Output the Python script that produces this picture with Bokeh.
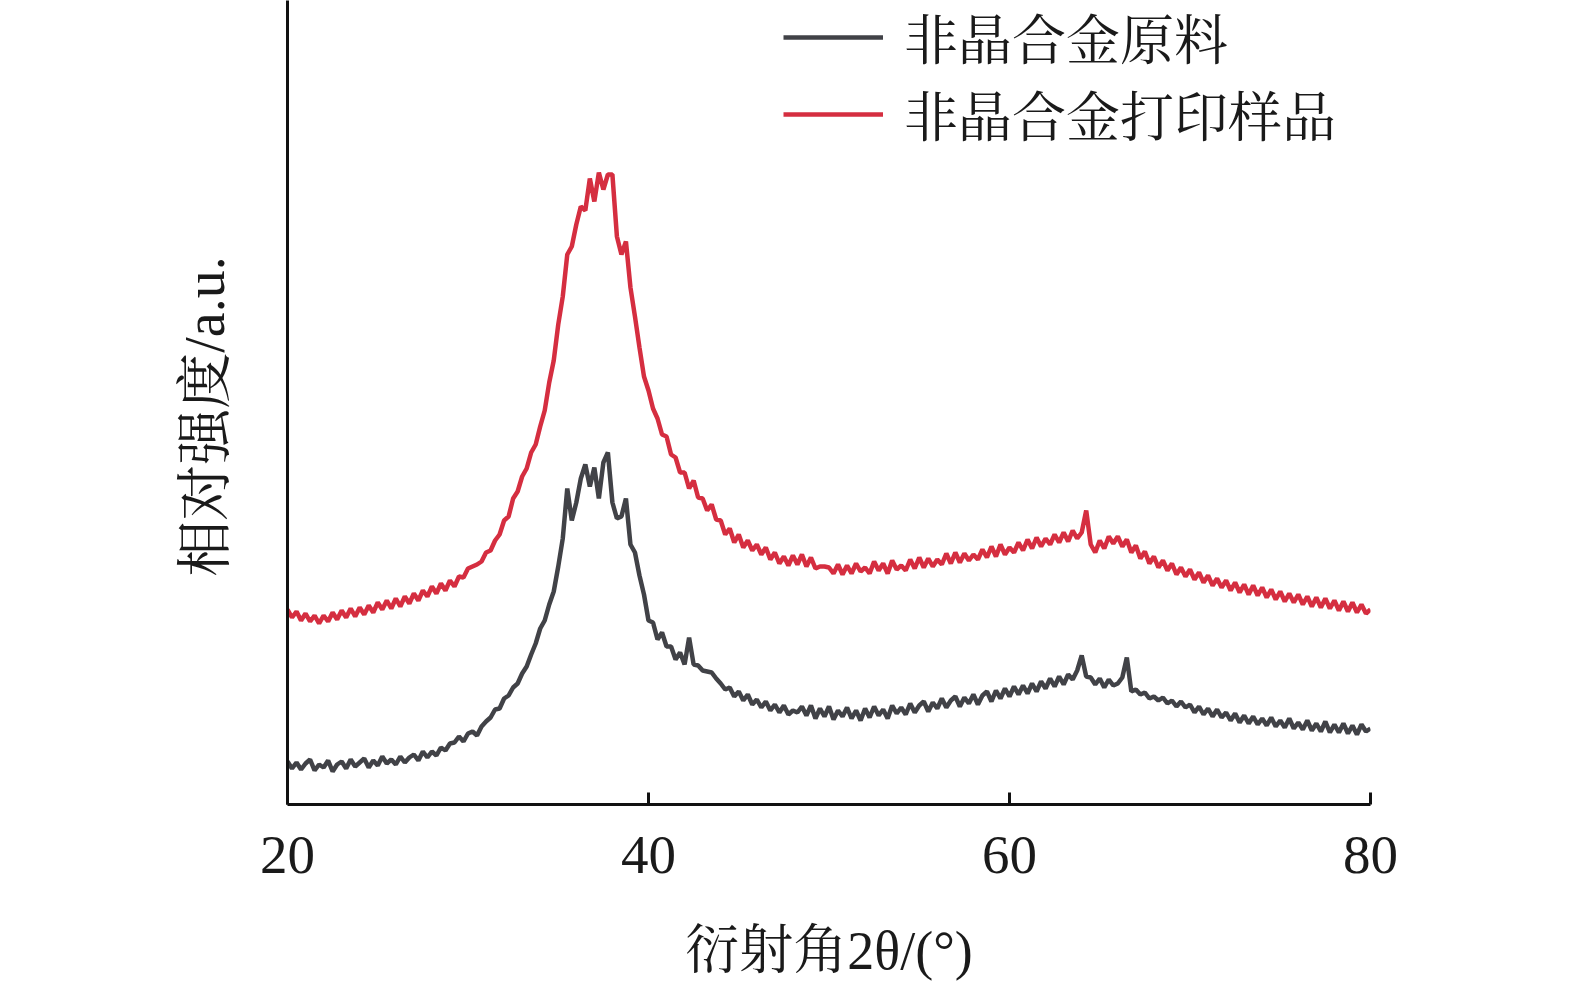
from bokeh.plotting import figure
from bokeh.models import Range1d, FixedTicker, Legend, LegendItem
from bokeh.embed import file_html
from bokeh.resources import INLINE

# diffraction angle 2theta (degrees), 0.25 deg step
two_theta = [20 + 0.25 * i for i in range(241)]

# 非晶合金原料 (relative intensity, a.u.)
raw_alloy = [
    43, 36, 42, 35, 41, 45, 34, 40,
    37, 44, 33, 40, 43, 36, 45, 38,
    42, 46, 37, 44, 39, 48, 41, 45,
    40, 48, 42, 47, 50, 44, 53, 47,
    53, 49, 57, 54, 61, 62, 68, 63,
    71, 73, 69, 78, 83, 87, 95, 96,
    106, 109, 117, 121, 131, 138, 150, 161,
    176, 184, 200, 213, 238, 266, 316, 284,
    302, 326, 340, 318, 337, 306, 342, 352,
    302, 286, 288, 306, 260, 252, 229, 210,
    184, 182, 165, 172, 158, 158, 145, 152,
    140, 167, 140, 139, 134, 133, 132, 126,
    121, 115, 117, 108, 113, 104, 110, 100,
    105, 97, 103, 94, 100, 92, 99, 90,
    94, 92, 98, 89, 99, 86, 96, 88,
    98, 85, 94, 88, 97, 86, 94, 84,
    96, 87, 98, 89, 95, 86, 99, 91,
    97, 90, 101, 92, 99, 103, 93, 102,
    96, 106, 97, 104, 108, 98, 107, 101,
    110, 100, 109, 113, 103, 114, 106, 116,
    108, 118, 110, 119, 111, 121, 113, 123,
    116, 126, 118, 128, 120, 130, 125, 134,
    149, 128, 127, 120, 126, 117, 125, 119,
    121, 127, 147, 113, 115, 110, 112, 106,
    108, 104, 107, 101, 104, 98, 103, 97,
    100, 92, 98, 90, 96, 88, 95, 87,
    92, 84, 91, 82, 89, 81, 88, 80,
    86, 79, 87, 78, 84, 77, 86, 76,
    82, 75, 84, 74, 81, 73, 83, 72,
    80, 72, 81, 71, 79, 70, 80, 73,
    76,
]

# 非晶合金打印样品 (relative intensity, a.u.)
printed_sample = [
    195, 187, 193, 184, 191, 183, 189, 181,
    189, 183, 192, 185, 194, 187, 196, 188,
    197, 190, 199, 192, 202, 195, 204, 196,
    206, 198, 208, 201, 211, 204, 214, 208,
    218, 211, 221, 214, 224, 218, 228, 227,
    236, 238, 240, 243, 252, 254, 264, 270,
    284, 288, 306, 313, 328, 336, 352, 360,
    378, 394, 422, 444, 480, 508, 550, 558,
    580, 598, 594, 626, 603, 632, 615, 630,
    630, 568, 550, 563, 517, 488, 457, 428,
    414, 396, 386, 370, 368, 350, 347, 332,
    332, 316, 324, 307, 306, 294, 300, 285,
    284, 270, 276, 262, 270, 257, 264, 254,
    260, 250, 257, 245, 252, 241, 248, 239,
    249, 240, 250, 238, 247, 236, 238, 238,
    237, 231, 240, 230, 239, 231, 241, 233,
    237, 231, 243, 234, 241, 231, 244, 235,
    239, 234, 245, 236, 247, 237, 246, 238,
    245, 240, 251, 241, 252, 242, 251, 244,
    250, 245, 255, 247, 258, 248, 260, 250,
    257, 252, 262, 254, 265, 256, 267, 258,
    266, 260, 270, 262, 272, 263, 274, 266,
    272, 294, 260, 252, 264, 256, 268, 261,
    268, 258, 265, 252, 259, 246, 253, 241,
    248, 237, 244, 234, 241, 230, 237, 228,
    235, 225, 232, 222, 229, 219, 226, 217,
    224, 214, 222, 212, 220, 210, 219, 209,
    217, 207, 215, 205, 213, 203, 211, 202,
    210, 200, 208, 198, 207, 197, 206, 196,
    204, 194, 203, 193, 202, 192, 200, 191,
    195,
]

x_ticks = [20, 40, 60, 80]
series_names = ["非晶合金原料", "非晶合金打印样品"]
x_label = "衍射角2θ/(°)"
y_label = "相对强度/a.u.\u2002"

FONT = "'Liberation Serif', 'Noto Serif CJK SC', 'Noto Sans CJK SC', serif"
TXT = "#1a1a1a"

p = figure(width=1559, height=989, output_backend="svg", toolbar_location=None,
           x_range=Range1d(20, 80), y_range=Range1d(0, 804),
           min_border_left=287, min_border_right=189,
           min_border_top=0, min_border_bottom=185)
p.outline_line_color = None
p.grid.visible = False
p.background_fill_color = "white"

r_raw = p.line(two_theta, raw_alloy, line_color="#414247", line_width=4.5)
r_print = p.line(two_theta, printed_sample, line_color="#d52e40", line_width=4.5)

xa = p.xaxis[0]
xa.ticker = FixedTicker(ticks=x_ticks)
xa.axis_line_width = 3
xa.axis_line_color = "#111111"
xa.major_tick_line_width = 3
xa.major_tick_line_color = "#111111"
xa.major_tick_in = 12
xa.major_tick_out = 0
xa.minor_tick_line_color = None
xa.major_label_text_font = FONT
xa.major_label_text_font_size = "55px"
xa.major_label_text_color = TXT
xa.major_label_standoff = 32
xa.axis_label = x_label
xa.axis_label_text_font = FONT
xa.axis_label_text_font_size = "54px"
xa.axis_label_text_font_style = "normal"
xa.axis_label_text_color = TXT
xa.axis_label_standoff = 45

ya = p.yaxis[0]
ya.ticker = FixedTicker(ticks=[])
ya.axis_line_width = 3
ya.axis_line_color = "#111111"
ya.major_tick_line_color = None
ya.minor_tick_line_color = None
ya.major_label_text_font_size = "0px"
ya.axis_label = y_label
ya.axis_label_text_font = FONT
ya.axis_label_text_font_size = "56px"
ya.axis_label_text_font_style = "normal"
ya.axis_label_text_color = TXT
ya.axis_label_standoff = 52

legend = Legend(items=[LegendItem(label=series_names[0], renderers=[r_raw]),
                       LegendItem(label=series_names[1], renderers=[r_print])],
                location=(496, 652))
legend.label_text_font = FONT
legend.label_text_font_size = "54px"
legend.label_text_color = TXT
legend.glyph_width = 100
legend.glyph_height = 40
legend.label_standoff = 21
legend.spacing = 0
legend.padding = 0
legend.margin = 0
legend.border_line_color = None
legend.background_fill_alpha = 0
p.add_layout(legend)

open("out.html", "w").write(file_html(p, INLINE))
